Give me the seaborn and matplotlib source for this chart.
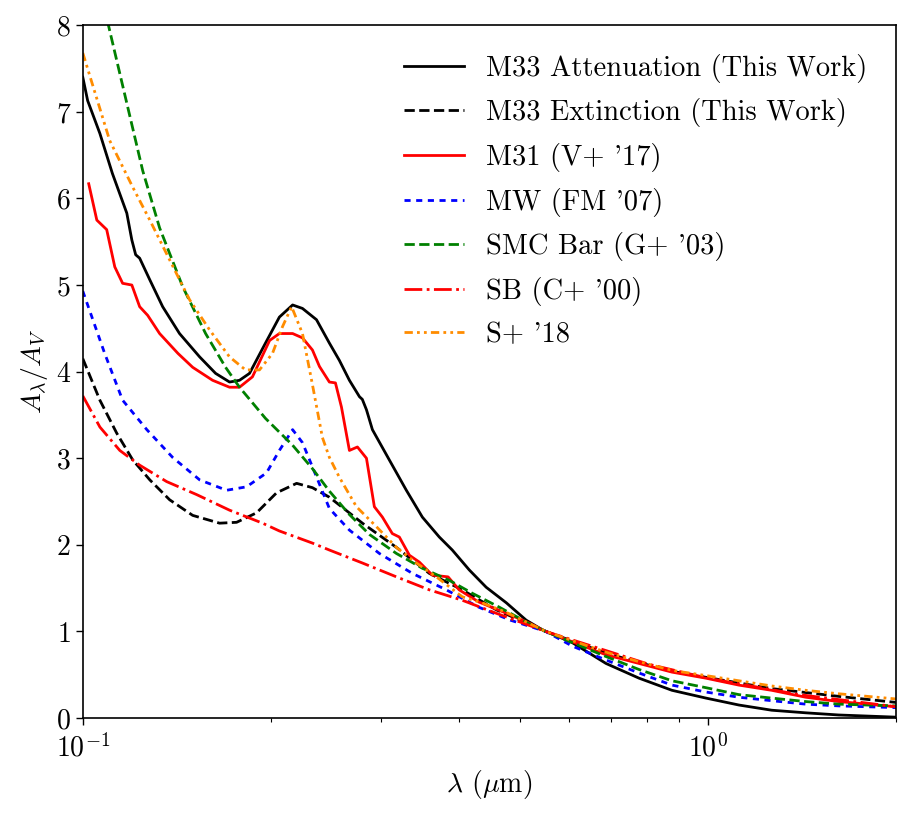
import matplotlib
matplotlib.use("Agg")
import matplotlib.pyplot as plt
import seaborn as sns

# M33 attenuation (this work)
att_wl = [0.100, 0.1018, 0.1065, 0.1115, 0.1176, 0.1198, 0.1215, 0.1233, 0.128, 0.1342,
          0.1428, 0.1538, 0.1631, 0.1717, 0.1781, 0.1848, 0.196, 0.2063, 0.2166, 0.2246,
          0.2365, 0.248, 0.2573, 0.2670, 0.2771, 0.2800, 0.2843, 0.2906, 0.3093, 0.3293,
          0.3493, 0.3718, 0.390, 0.4152, 0.4419, 0.476, 0.512, 0.543, 0.607, 0.687,
          0.776, 0.876, 0.993, 1.121, 1.265, 1.434, 1.619, 2.0]
att_av = [7.40, 7.13, 6.75, 6.29, 5.83, 5.52, 5.35, 5.31, 5.06, 4.75,
          4.44, 4.17, 3.98, 3.88, 3.90, 3.98, 4.33, 4.63, 4.77, 4.73,
          4.60, 4.33, 4.13, 3.90, 3.71, 3.68, 3.56, 3.33, 2.98, 2.63,
          2.32, 2.09, 1.94, 1.71, 1.51, 1.33, 1.13, 1.02, 0.87, 0.63,
          0.46, 0.32, 0.23, 0.15, 0.09, 0.06, 0.035, 0.01]

# M33 extinction (this work)
ext_wl = [0.100, 0.1065, 0.1133, 0.1202, 0.128, 0.1377, 0.1499, 0.1655, 0.1762, 0.1897,
          0.2041, 0.2198, 0.2330, 0.2480, 0.2801, 0.3175, 0.3584, 0.4046, 0.4585, 0.550,
          0.687, 0.776, 0.876, 0.993, 1.265, 1.619, 2.0]
ext_av = [4.15, 3.67, 3.29, 2.98, 2.75, 2.52, 2.34, 2.25, 2.26, 2.37,
          2.60, 2.71, 2.66, 2.55, 2.25, 1.97, 1.67, 1.48, 1.25, 1.00,
          0.75, 0.64, 0.54, 0.47, 0.34, 0.25, 0.18]

# M31 (V+ '17)
m31_wl = [0.1022, 0.1053, 0.1092, 0.1125, 0.1158, 0.1198, 0.1233, 0.1270, 0.1327, 0.1420,
          0.1499, 0.1613, 0.1717, 0.1781, 0.1868, 0.1990, 0.2063, 0.2166, 0.2246,
          0.2330, 0.2391, 0.2480, 0.2536, 0.2593, 0.2670, 0.2750, 0.2843, 0.2927, 0.3015,
          0.3127, 0.3209, 0.3330, 0.3455, 0.3624, 0.3840, 0.4000, 0.430, 0.476, 0.520,
          0.550, 0.687, 0.776, 0.876, 0.993, 1.121, 1.265, 1.434, 1.619, 2.0]
m31_av = [6.17, 5.75, 5.64, 5.21, 5.02, 5.00, 4.75, 4.65, 4.44, 4.21,
          4.05, 3.90, 3.82, 3.82, 3.94, 4.36, 4.44, 4.44, 4.39,
          4.25, 4.06, 3.88, 3.87, 3.59, 3.09, 3.13, 3.00, 2.44, 2.32,
          2.13, 2.09, 1.88, 1.80, 1.65, 1.63, 1.48, 1.34, 1.21, 1.09,
          1.00, 0.73, 0.63, 0.53, 0.46, 0.38, 0.32, 0.24, 0.19, 0.13]

# MW (FM '07)
mw_wl = [0.100, 0.1084, 0.1158, 0.1266, 0.1392, 0.1538, 0.1698, 0.1828, 0.1967, 0.2063,
         0.2166, 0.2246, 0.2330, 0.2480, 0.2670, 0.2982, 0.3367, 0.3815, 0.430, 0.483,
         0.550, 0.607, 0.687, 0.776, 0.876, 0.993, 1.121, 1.265, 1.434, 1.619, 2.0]
mw_av = [4.93, 4.21, 3.67, 3.33, 3.01, 2.75, 2.63, 2.67, 2.83, 3.09,
         3.33, 3.18, 2.90, 2.42, 2.17, 1.90, 1.67, 1.48, 1.28, 1.13,
         1.00, 0.83, 0.67, 0.52, 0.38, 0.30, 0.24, 0.20, 0.16, 0.14, 0.12]

# SMC Bar (G+ '03)
smc_wl = [0.1095, 0.1104, 0.1247, 0.1327, 0.1445, 0.1572, 0.1692, 0.1781, 0.196, 0.2166,
          0.2330, 0.2480, 0.2670, 0.2874, 0.3175, 0.3493, 0.3857, 0.420, 0.4637, 0.5176,
          0.550, 0.687, 0.776, 0.876, 0.993, 1.121, 1.265, 1.434, 1.619, 2.0]
smc_av = [8.05, 7.94, 6.32, 5.66, 4.98, 4.44, 4.05, 3.82, 3.46, 3.15,
          2.88, 2.62, 2.35, 2.12, 1.90, 1.73, 1.59, 1.44, 1.28, 1.09,
          1.00, 0.71, 0.56, 0.43, 0.35, 0.27, 0.23, 0.19, 0.16, 0.14]

# SB (C+ '00)
sb_wl = [0.100, 0.1065, 0.1146, 0.1233, 0.1362, 0.1521, 0.1717, 0.1939, 0.2063, 0.2330,
         0.2480, 0.2801, 0.3175, 0.3584, 0.4046, 0.4585, 0.550, 0.700, 0.805, 1.0,
         1.4, 2.0]
sb_av = [3.72, 3.36, 3.09, 2.92, 2.73, 2.58, 2.40, 2.25, 2.16, 2.02,
         1.94, 1.79, 1.63, 1.48, 1.36, 1.21, 1.00, 0.76, 0.62, 0.46,
         0.27, 0.13]

# S+ '18
s18_wl = [0.100, 0.1104, 0.1202, 0.128, 0.1377, 0.1482, 0.1596, 0.1717, 0.1821, 0.1917,
          0.2011, 0.2087, 0.2158, 0.2246, 0.2330, 0.2417, 0.2480, 0.2573, 0.2740, 0.2949,
          0.3175, 0.3417, 0.3678, 0.4046, 0.4355, 0.476, 0.550, 0.687, 0.776, 0.876,
          0.993, 1.121, 1.265, 1.434, 1.619, 2.0]
s18_av = [7.68, 6.67, 6.13, 5.75, 5.29, 4.83, 4.48, 4.17, 4.02, 4.02,
          4.21, 4.52, 4.75, 4.44, 3.85, 3.24, 3.01, 2.78, 2.44, 2.21,
          1.97, 1.79, 1.63, 1.40, 1.33, 1.22, 1.00, 0.76, 0.65, 0.55,
          0.49, 0.43, 0.37, 0.32, 0.28, 0.22]

plt.rcParams['font.family'] = 'cmr10'
plt.rcParams['mathtext.fontset'] = 'cm'
plt.rcParams['axes.unicode_minus'] = False
plt.rcParams['axes.formatter.use_mathtext'] = True

fig, ax = plt.subplots(figsize=(9.2, 8.15), dpi=100)
fig.subplots_adjust(left=0.090, right=0.974, top=0.969, bottom=0.119)

lw = 2.0
sns.lineplot(x=att_wl, y=att_av, ax=ax, color='black', lw=lw, linestyle='-',
             label='M33 Attenuation (This Work)', sort=False)
sns.lineplot(x=ext_wl, y=ext_av, ax=ax, color='black', lw=lw, linestyle='--',
             label='M33 Extinction (This Work)', sort=False)
sns.lineplot(x=m31_wl, y=m31_av, ax=ax, color='red', lw=lw, linestyle='-',
             label="M31 (V+ '17)", sort=False)
sns.lineplot(x=mw_wl, y=mw_av, ax=ax, color='blue', lw=lw, linestyle=(0, (2.2, 2.0)),
             label="MW (FM '07)", sort=False)
sns.lineplot(x=smc_wl, y=smc_av, ax=ax, color='green', lw=lw, linestyle='--',
             label="SMC Bar (G+ '03)", sort=False)
sns.lineplot(x=sb_wl, y=sb_av, ax=ax, color='red', lw=lw, linestyle='-.',
             label="SB (C+ '00)", sort=False)
sns.lineplot(x=s18_wl, y=s18_av, ax=ax, color='darkorange', lw=lw,
             linestyle=(0, (3, 1.5, 1, 1.5, 1, 1.5)), label="S+ '18", sort=False)

ax.set_xscale('log')
ax.set_xlim(0.1, 2.0)
ax.set_ylim(0, 8)
ax.set_yticks(range(0, 9))
ax.tick_params(labelsize=20, width=1.0, length=5)
ax.tick_params(axis='x', pad=6)
ax.tick_params(which='minor', width=0.8, length=3)
for s in ax.spines.values():
    s.set_linewidth(1.2)

ax.set_xlabel(r'$\lambda$ ($\mu$m)', fontsize=20)
ax.set_ylabel(r'$A_\lambda/A_V$', fontsize=20)

ax.legend(loc='upper right', frameon=False, fontsize=20.5, labelspacing=0.55,
          handlelength=2.1, handletextpad=0.8, borderaxespad=0.6)

fig.savefig('out.png', dpi=100)
